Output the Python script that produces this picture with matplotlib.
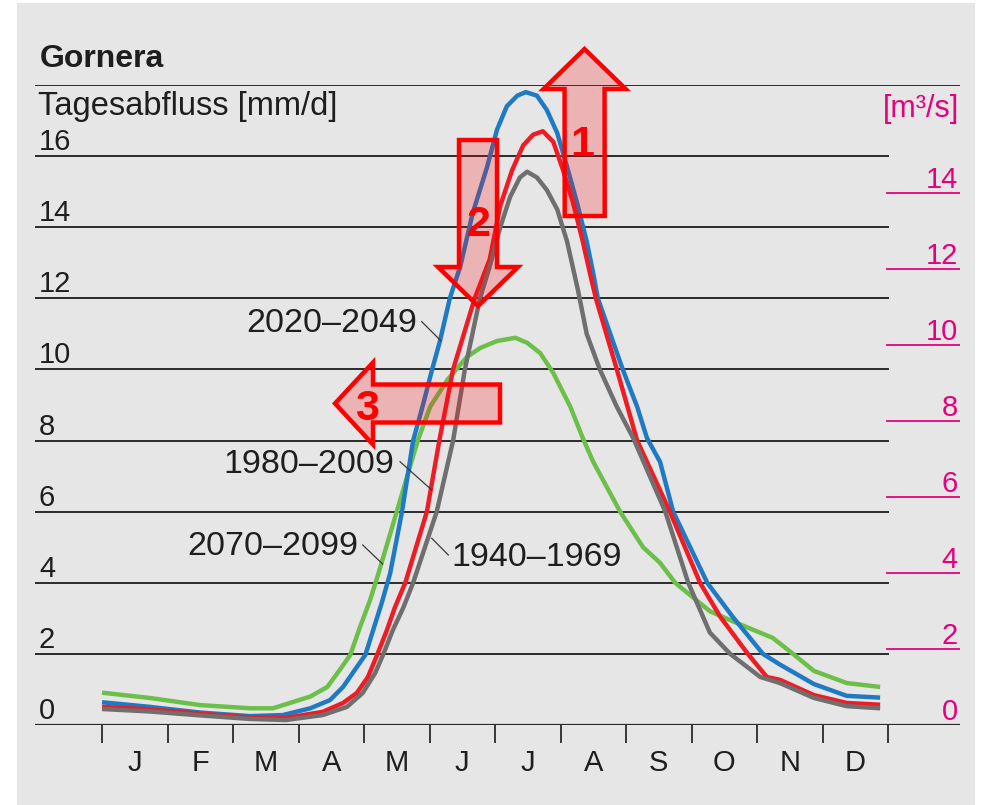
import numpy as np
import matplotlib
matplotlib.use("Agg")
import matplotlib.pyplot as plt
from matplotlib.patches import Polygon, Rectangle
from matplotlib.transforms import Affine2D, blended_transform_factory, offset_copy

plt.rcParams['font.family'] = ['Liberation Sans', 'DejaVu Sans']

# --- data (month position 0..12, daily runoff mm/d) ---
months = ['J', 'F', 'M', 'A', 'M', 'J', 'J', 'A', 'S', 'O', 'N', 'D']

x_1940 = [0, 0.73, 1.50, 2.26, 2.81, 3.37, 3.74, 3.98, 4.17, 4.29, 4.44, 4.60, 4.75, 5.11,
          5.36, 5.54, 5.77, 5.92, 6.08, 6.23, 6.38, 6.49, 6.64, 6.79, 6.95, 7.10, 7.27, 7.40,
          7.60, 7.86, 8.11, 8.60, 8.95, 9.28, 9.59, 10.05, 10.35, 10.87, 11.37, 11.88]
y_1940 = [0.45, 0.38, 0.27, 0.17, 0.14, 0.28, 0.51, 0.90, 1.46, 1.97, 2.67, 3.30, 4.0, 6.0,
          8.0, 10.0, 12.0, 12.9, 14.0, 14.85, 15.4, 15.56, 15.4, 15.05, 14.5, 13.6, 12.2, 11.0,
          10.0, 8.95, 8.07, 6.0, 4.0, 2.6, 2.0, 1.35, 1.18, 0.76, 0.53, 0.47]

x_1980 = [0, 0.73, 1.50, 2.26, 2.81, 3.37, 3.68, 3.89, 4.06, 4.20, 4.35, 4.47, 4.63, 4.96,
          5.15, 5.36, 5.69, 5.92, 6.08, 6.26, 6.43, 6.58, 6.73, 6.89, 7.04, 7.19, 7.34, 7.45,
          7.54, 7.86, 8.17, 8.67, 9.13, 9.44, 9.86, 10.15, 10.35, 10.87, 11.37, 11.88]
y_1980 = [0.51, 0.44, 0.32, 0.21, 0.20, 0.37, 0.62, 0.90, 1.35, 1.97, 2.67, 3.30, 4.0, 6.0,
          8.0, 10.0, 12.0, 13.1, 14.6, 15.6, 16.3, 16.6, 16.7, 16.4, 15.6, 14.7, 13.6, 12.7,
          12.0, 10.0, 8.0, 6.0, 4.0, 3.04, 2.0, 1.35, 1.27, 0.84, 0.62, 0.57]

x_2020 = [0, 0.73, 1.50, 2.26, 2.76, 3.18, 3.48, 3.68, 3.86, 4.02, 4.14, 4.27, 4.40, 4.58,
          4.75, 4.90, 5.04, 5.16, 5.31, 5.47, 5.66, 5.88, 6.03, 6.18, 6.34, 6.47, 6.64, 6.79,
          6.95, 7.10, 7.25, 7.40, 7.50, 7.57, 7.76, 7.95, 8.17, 8.32, 8.52, 8.72, 9.24, 9.63,
          10.09, 10.35, 10.87, 11.37, 11.88]
y_2020 = [0.64, 0.51, 0.35, 0.25, 0.28, 0.47, 0.70, 1.07, 1.55, 1.97, 2.67, 3.43, 4.27, 6.0,
          8.0, 9.0, 10.0, 10.8, 12.0, 12.9, 14.4, 15.7, 16.74, 17.4, 17.7, 17.8, 17.7, 17.3,
          16.65, 15.7, 14.7, 13.6, 12.7, 12.0, 11.0, 10.0, 8.95, 8.07, 7.4, 6.0, 4.0, 3.04,
          2.0, 1.7, 1.15, 0.82, 0.77]

x_2070 = [0, 0.73, 1.50, 2.26, 2.61, 2.87, 3.18, 3.44, 3.63, 3.79, 3.94, 4.09, 4.21, 4.50,
          4.82, 5.01, 5.27, 5.57, 5.77, 6.03, 6.31, 6.49, 6.69, 6.89, 7.15, 7.34, 7.50, 7.91,
          8.26, 8.52, 8.75, 9.28, 9.69, 10.24, 10.55, 10.87, 11.37, 11.88]
y_2070 = [0.91, 0.76, 0.56, 0.47, 0.47, 0.62, 0.80, 1.07, 1.55, 1.97, 2.76, 3.5, 4.2, 6.0,
          8.0, 8.95, 9.7, 10.35, 10.6, 10.8, 10.89, 10.75, 10.46, 9.9, 8.95, 8.07, 7.4, 6.0,
          5.0, 4.56, 4.0, 3.2, 2.87, 2.45, 2.0, 1.52, 1.18, 1.07]

left_ticks = [0, 2, 4, 6, 8, 10, 12, 14, 16]
right_ticks = [0, 2, 4, 6, 8, 10, 12, 14]
mmd_per_m3s = 1.069   # right axis scale factor

col_gray = '#6f6f6f'
col_red = '#ee1c25'
col_blue = '#1f7ac4'
col_green = '#6cc04a'
col_pink = '#e5007e'
col_text = '#1e1e1e'
col_line = '#2a2a2a'

W, H = 983, 805
fig = plt.figure(figsize=(W / 100, H / 100), dpi=100, facecolor='white')
pix = Affine2D().scale(1 / W, -1 / H).translate(0, 1) + fig.transFigure

# grey panel
fig.add_artist(Rectangle((17, 3), 958, 805, transform=pix, facecolor='#e6e6e6',
                         edgecolor='none', zorder=0))

# axes: x from 35 px to 960 px, y 0 at 725 px, 18 at 85 px
ax = fig.add_axes([35 / W, (H - 725) / H, 925 / W, 640 / H])
ax.set_facecolor('none')
ax.set_xlim(-1.023, 13.099)
ax.set_ylim(0, 18)
for s in ax.spines.values():
    s.set_visible(False)
ax.set_yticks([])
ax.set_xticks(np.arange(13))
ax.tick_params(axis='x', direction='out', length=13, width=1.3, color=col_line,
               labelbottom=False)

# horizontal lines
for v in left_ticks[1:]:
    ax.axhline(v, xmin=0, xmax=(888 - 35) / 925, color=col_line, lw=1.4, zorder=1)
ax.axhline(18, color=col_line, lw=1.4, zorder=1)
ax.axhline(0, color=col_line, lw=1.6, zorder=1)

# left labels
ytr = offset_copy(blended_transform_factory(ax.transAxes, ax.transData), fig, x=4, y=6, units='dots')
for v in left_ticks:
    ax.text(0, v, str(v), transform=ytr, ha='left', va='baseline', fontsize=21, color=col_text)

# month letters
mtr = blended_transform_factory(ax.transData, ax.transAxes)
for i, m in enumerate(months):
    ax.text(i + 0.5, -0.0594, m, transform=mtr, ha='center', va='center', fontsize=21,
            color=col_text)

# curves
lw = 3.2
ax.plot(x_2070, y_2070, color=col_green, lw=lw, solid_capstyle='butt', solid_joinstyle='round', zorder=3)
ax.plot(x_2020, y_2020, color=col_blue, lw=lw, solid_capstyle='butt', solid_joinstyle='round', zorder=4)
ax.plot(x_1980, y_1980, color=col_red, lw=lw, solid_capstyle='butt', solid_joinstyle='round', zorder=5)
ax.plot(x_1940, y_1940, color=col_gray, lw=lw, solid_capstyle='butt', solid_joinstyle='round', zorder=6)

# right axis in m3/s
ax2 = ax.twinx()
ax2.set_ylim(0, 18 / mmd_per_m3s)
for s in ax2.spines.values():
    s.set_visible(False)
ax2.set_yticks([])
rtr = offset_copy(blended_transform_factory(ax2.transAxes, ax2.transData), fig, x=-2, y=5, units='dots')
for v in right_ticks:
    if v > 0:
        ax2.axhline(v, xmin=(887 - 35) / 925, xmax=1.0, color=col_pink, lw=1.3)
    ax2.text(1.0, v, str(v), transform=rtr, ha='right', va='baseline', fontsize=21, color=col_pink)

# titles
fig.text(40, 67, 'Gornera', transform=pix, fontsize=23, fontweight='bold', color=col_text,
         ha='left', va='baseline')
fig.text(38, 115, 'Tagesabfluss [mm/d]', transform=pix, fontsize=23.5, color=col_text,
         ha='left', va='baseline')
fig.text(959, 117, '[m³/s]', transform=pix, fontsize=22, color=col_pink, ha='right', va='baseline')

# series labels with leader lines
labels = [('2020–2049', (4.809, 11.39), (4.881, 11.345), (5.171, 10.81), 'right'),
          ('1980–2009', (4.458, 7.43), (4.550, 7.406), (5.034, 6.610), 'right'),
          ('2070–2099', (3.908, 5.12), (3.980, 5.063), (4.284, 4.529), 'right'),
          ('1940–1969', (5.328, 4.81), (5.287, 4.782), (5.034, 5.252), 'left')]
for txt, tpos, p0, p1, ha in labels:
    ax.text(tpos[0], tpos[1], txt, ha=ha, va='center_baseline', fontsize=24.5, color=col_text,
            zorder=7)
    ax.plot([p0[0], p1[0]], [p0[1], p1[1]], color='#3a3a3a', lw=0.9, zorder=7)


def fat_arrow(tail, tip, shaft_w, head_w, head_len):
    tail = np.array(tail, float)
    tip = np.array(tip, float)
    d = tip - tail
    d /= np.hypot(*d)
    n = np.array([-d[1], d[0]])
    base = tip - d * head_len
    pts = [tail + n * shaft_w / 2, base + n * shaft_w / 2, base + n * head_w / 2, tip,
           base - n * head_w / 2, base - n * shaft_w / 2, tail - n * shaft_w / 2]
    return Polygon(pts, closed=True, transform=pix, facecolor=(1, 0, 0, 0.22),
                   edgecolor='#ff0000', lw=3.2, joinstyle='miter', zorder=10)


arrows = [((584.7, 216), (584.5, 49), 40, 82, 40, '1', (582, 140)),
          ((478, 140), (478, 306), 38, 80, 39, '2', (479, 220)),
          ((500, 403.5), (335, 403.5), 38, 82, 38, '3', (367, 404))]
for tail, tip, sw, hw, hl, num, npos in arrows:
    fig.add_artist(fat_arrow(tail, tip, sw, hw, hl))
    fig.text(npos[0], npos[1], num, transform=pix, fontsize=31, fontweight='bold',
             color='#ff0000', ha='center', va='center_baseline', zorder=11)

fig.savefig('out.png', dpi=100, facecolor='white')
